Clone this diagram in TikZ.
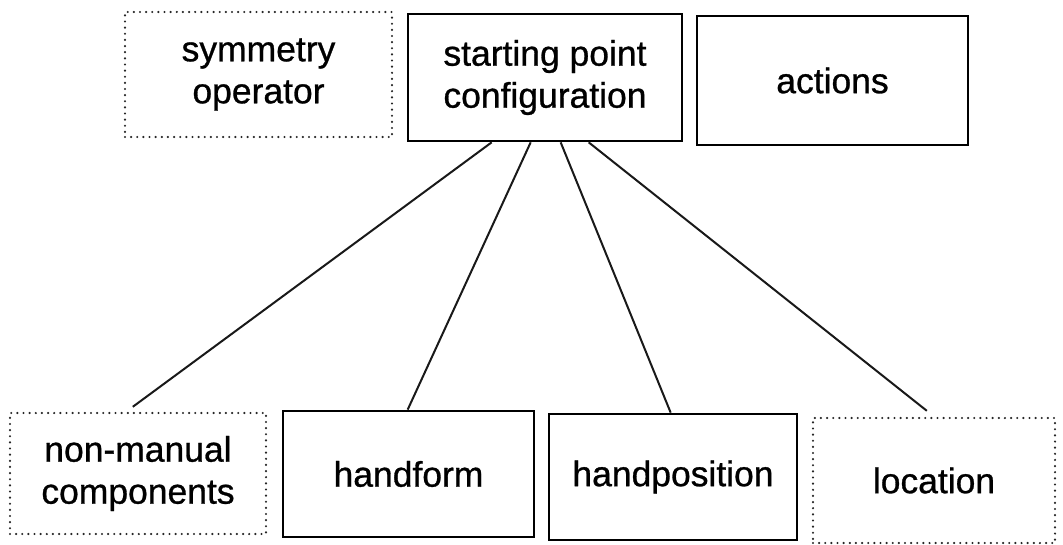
\documentclass[tikz,border=0pt]{standalone}
\usepackage{fontspec}
\setmainfont{Liberation Sans}[FakeBold=0.8]
\usetikzlibrary{calc}
\tikzset{
  lbl/.style={font=\fontsize{26.6}{31.5}\selectfont, align=center, inner sep=0pt},
  solidbox/.style={lbl, draw=black, line width=2pt},
  dotbox/.style={lbl, draw=black!85, line width=1.8pt, line cap=round, dash pattern=on 0pt off 4.6pt},
  conn/.style={draw=black!90, line width=1.5pt}
}
\begin{document}
\begin{tikzpicture}[x=0.75pt,y=-0.75pt]
\useasboundingbox (0,0) rectangle (1063,545);
\node[dotbox, minimum width=200.25pt, minimum height=93.75pt] (sym) at (258.5,74.5) {symmetry\\operator};
\node[solidbox, minimum width=205.5pt, minimum height=95.25pt] (start) at (545,77.5) {starting point\\configuration};
\node[solidbox, minimum width=203.25pt, minimum height=96.75pt] (act) at (832.5,80.5) {actions};
\node[dotbox, minimum width=192pt, minimum height=90.75pt] (nonman) at (138,473.5) {non-manual\\components};
\node[solidbox, minimum width=188.25pt, minimum height=94.5pt] (hform) at (408.5,474) {handform};
\node[solidbox, minimum width=186pt, minimum height=94.5pt] (hpos) at (673,477) {handposition};
\node[dotbox, minimum width=181.5pt, minimum height=93.75pt] (loc) at (934,480.5) {location};
\draw[conn] ($(start.south west)+(85,0)$) -- ($(nonman.north west)+(124,-5)$);
\draw[conn] ($(start.south west)+(124,0)$) -- ($(hform.north west)+(126,0)$);
\draw[conn] ($(start.south west)+(154,0)$) -- ($(hpos.north west)+(123,0)$);
\draw[conn] ($(start.south west)+(182,0)$) -- ($(loc.north west)+(115,-6)$);
\end{tikzpicture}
\end{document}
